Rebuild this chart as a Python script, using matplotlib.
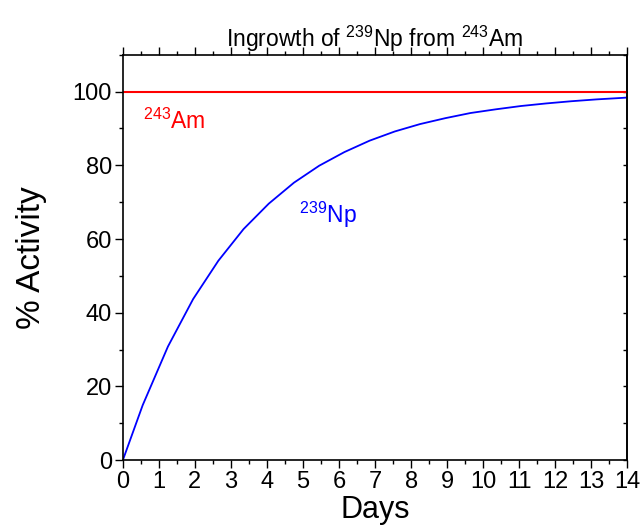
import matplotlib
matplotlib.use("Agg")
import matplotlib.pyplot as plt
from matplotlib.ticker import MultipleLocator, NullFormatter

plt.rcParams['font.family'] = ['Liberation Sans', 'DejaVu Sans']
plt.rcParams['mathtext.fontset'] = 'custom'
plt.rcParams['mathtext.rm'] = 'Liberation Sans'
plt.rcParams['mathtext.it'] = 'Liberation Sans'

# data
days = [0, 0.55, 1.25, 1.95, 2.65, 3.35, 4.05, 4.75, 5.45, 6.15, 6.85,
        7.55, 8.25, 8.95, 9.65, 10.35, 11.05, 11.75, 12.45, 13.15, 13.85, 14.0]
np_activity = [0, 14.9, 30.8, 43.7, 54.1, 62.7, 69.6, 75.3, 79.9, 83.6, 86.7,
               89.2, 91.2, 92.8, 94.2, 95.2, 96.1, 96.8, 97.4, 97.9, 98.3, 98.4]
am_days = [0, 14]
am_activity = [100, 100]

fig = plt.figure(figsize=(6.4, 5.27), dpi=100)
ax = fig.add_axes([0.192, 0.127, 0.788, 0.769])

ax.plot(am_days, am_activity, color='red', lw=1.5)
ax.plot(days, np_activity, color='blue', lw=1.3)

ax.text(0.55, 90, r'$^{243}$Am', color='red', fontsize=16.5)
ax.text(4.9, 64.5, r'$^{239}$Np', color='blue', fontsize=16.5)

ax.set_xlim(0, 14)
ax.set_ylim(0, 110)
ax.xaxis.set_major_locator(MultipleLocator(1))
ax.xaxis.set_minor_locator(MultipleLocator(0.5))
ax.yaxis.set_major_locator(MultipleLocator(20))
ax.yaxis.set_minor_locator(MultipleLocator(10))
ax.tick_params(which='both', direction='out', top=True, right=False,
               width=1, labelsize=17, pad=2)
ax.tick_params(which='major', length=6)
ax.tick_params(which='minor', length=3)
for s in ax.spines.values():
    s.set_linewidth(1.2)

# small inward ticks on the right spine
rax = ax.secondary_yaxis('right')
rax.yaxis.set_major_locator(MultipleLocator(10))
rax.yaxis.set_major_formatter(NullFormatter())
rax.tick_params(direction='in', length=3, width=1)
rax.spines['right'].set_linewidth(1.2)

ax.set_xlabel('Days', fontsize=22, labelpad=1)
ax.set_ylabel('% Activity', fontsize=24, labelpad=18)
ax.set_title(r'Ingrowth of $^{239}$Np from $^{243}$Am', fontsize=16.5, pad=6)

fig.savefig('out.png', dpi=100)
